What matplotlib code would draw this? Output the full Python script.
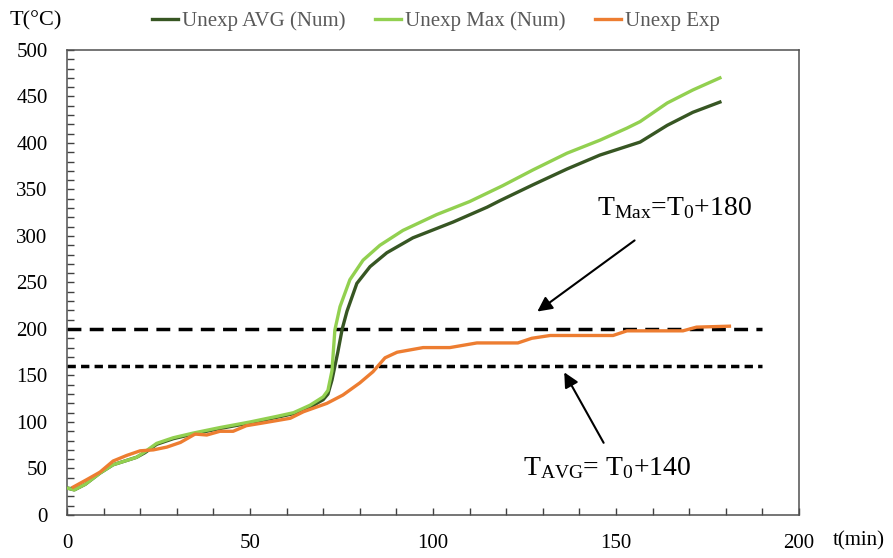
import numpy as np
import matplotlib.pyplot as plt

plt.rcParams['font.family'] = ['Liberation Serif', 'DejaVu Serif']
plt.rcParams['mathtext.fontset'] = 'custom'
plt.rcParams['mathtext.rm'] = 'Liberation Serif'
plt.rcParams['mathtext.it'] = 'Liberation Serif'

# ---------------- Data ----------------
t_max = [0, 2, 5, 9, 12.6, 19, 21.3, 24.5, 29, 34.4, 41.8, 50, 57.3, 61.9, 66.4, 70, 71.3,
         72.4, 73.2, 74.6, 77.3, 80.9, 85.5, 91.8, 101, 110, 119, 127.3, 136.6, 145.6,
         153, 156.6, 164, 171, 178.4]
T_max = [29, 27, 33, 45, 54, 62, 68, 77, 83, 88, 94, 100, 106, 110, 118, 127, 134,
         155, 199, 224, 253, 274, 290, 306, 323, 337, 354, 371, 389, 403,
         416, 423, 443, 457, 470]

t_avg = [0, 2, 5, 9, 12.6, 19, 21.3, 24.5, 29, 34.4, 41.8, 50, 57.3, 61.9, 66.4, 70, 71.3,
         72.4, 73.2, 74, 75.2, 76.5, 79.2, 82.8, 87.4, 94.5, 105.5, 114.8, 118.3, 127.3,
         136.6, 145.6, 156.6, 164, 171, 178.4]
T_avg = [29, 27, 33, 45, 54, 62, 67, 76, 82, 87, 93, 99, 105, 109, 116, 124, 130,
         145, 160, 175, 200, 219, 249, 267, 282, 298, 315, 331, 338, 355,
         372, 387, 401, 419, 433, 444]

t_exp = [1.7, 5.4, 9, 12.6, 16.3, 20, 23.6, 27.3, 31, 35, 38.2, 41.8, 45.4, 49, 53.6, 61,
         64.6, 71, 75.4, 80, 83.6, 86.9, 90.2, 97.3, 104.6, 112, 123.2, 127, 132, 149.2,
         153, 168.3, 172, 181]
T_exp = [30, 38, 46, 58, 64, 69, 70, 73, 78, 87, 86, 90, 90, 96, 99, 104,
         111, 120, 129, 142, 154, 169, 175, 180, 180, 185, 185, 190, 193, 193,
         198, 198, 202, 203]

T_limit_max = 200   # T0 + 180
T_limit_avg = 160   # T0 + 140
limit_t = [0, 190]

# ---------------- Plot ----------------
fig = plt.figure(figsize=(8.93, 5.58), dpi=100)
ax = fig.add_axes([0.075, 0.0771, 0.8197, 0.8333])

ax.plot(t_avg, T_avg, color='#375623', lw=2.4, label='Unexp AVG (Num)', zorder=3)
ax.plot(t_max, T_max, color='#92D050', lw=2.4, label='Unexp Max (Num)', zorder=3)
ax.plot(t_exp, T_exp, color='#ED7D31', lw=2.4, label='Unexp Exp', zorder=4)

ax.plot(limit_t, [T_limit_max] * 2, color='black', lw=2.5, dashes=(4.0, 2.4), zorder=2)
ax.plot(limit_t, [T_limit_avg] * 2, color='black', lw=2.5, dashes=(2.4, 1.5), zorder=2)

ax.set_xlim(0, 200)
ax.set_ylim(0, 500)
ax.set_xticks(np.arange(0, 201, 50))
ax.set_yticks(np.arange(0, 501, 50))
ax.set_xticks(np.arange(0, 201, 10), minor=True)
ax.set_yticks(np.arange(0, 501, 10), minor=True)
ax.tick_params(which='both', direction='in', length=5, width=1, color='#404040',
               top=False, right=False)
ax.tick_params(axis='both', labelsize=15, pad=14)
for s in ax.spines.values():
    s.set_color('#505050')
    s.set_linewidth(1.1)

# annotations
ax.annotate('', xy=(127.9, 217), xytext=(155.7, 297),
            arrowprops=dict(arrowstyle='-|>', color='black', lw=1.5, mutation_scale=22))
ax.annotate('', xy=(135.5, 156), xytext=(147, 75),
            arrowprops=dict(arrowstyle='-|>', color='black', lw=1.5, mutation_scale=22))
ax.text(144.8, 322.6, r'T$_{\mathregular{Max}}$=T$_{\mathregular{0}}$+180', fontsize=20,
        ha='left', va='baseline')
ax.text(124.6, 43, r'T$_{\mathregular{AVG}}$= T$_{\mathregular{0}}$+140', fontsize=20,
        ha='left', va='baseline')

fig.text(0.011, 0.962, 'T(°C)', fontsize=16, ha='left', va='center')
fig.text(0.932, 0.030, 't(min)', fontsize=15, ha='left', va='center')

fig.legend(loc='center', bbox_to_anchor=(0.488, 0.962), ncol=3, frameon=False,
           fontsize=15, handlelength=1.25, handletextpad=0.2, columnspacing=1.4,
           labelcolor='#595959')

fig.savefig('out.png', dpi=100)
